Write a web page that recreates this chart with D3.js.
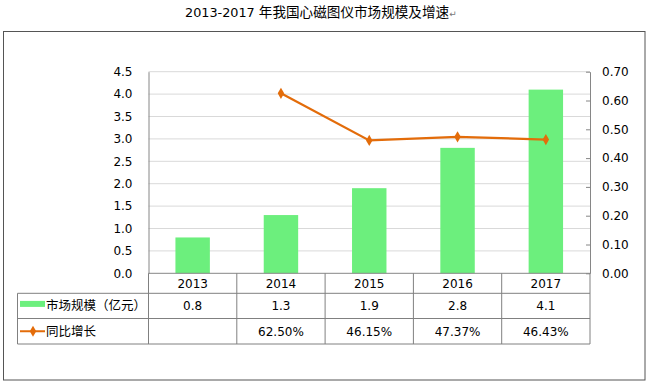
<!DOCTYPE html>
<html><head><meta charset="utf-8">
<script src="https://cdn.jsdelivr.net/npm/d3@7/dist/d3.min.js"></script>
<style>body{margin:0;background:#fff}svg{display:block}</style>
</head><body><svg id="c" width="647" height="383"></svg>
<script>
const titleYears = "2013-2017 ";
const titleText = "年我国心磁图仪市场规模及增速";
const titleMark = "↵";
const categories = ["2013","2014","2015","2016","2017"];
const marketSize = [0.8,1.3,1.9,2.8,4.1];
const growth = [null,0.625,0.4615,0.4737,0.4643];
const growthLabels = ["","62.50%","46.15%","47.37%","46.43%"];
const leftTicks = [0,0.5,1,1.5,2,2.5,3,3.5,4,4.5];
const rightTicks = [0,0.1,0.2,0.3,0.4,0.5,0.6,0.7];
const seriesNames = ["市场规模（亿元）","同比增长"];

const svg = d3.select("#c");
const num = "DejaVu Sans, Verdana, sans-serif";
const cjk = "'Noto Sans CJK SC', sans-serif";
const green = "#6CEF7D", orange = "#E36C0A", lineGray = "#808080";

const L = 148.5, R = 590, T = 71.7, B = 273.3;
const tableLeft = 17.5, row1 = 293.3, row2 = 318.5, row3 = 344;

const tEl = svg.append("text").attr("x",185).attr("y",17).attr("fill","#000");
tEl.append("tspan").attr("font-family",num).attr("font-size",12.8).text(titleYears);
tEl.append("tspan").attr("font-family",cjk).attr("font-size",13.6).text(titleText);
tEl.append("tspan").attr("font-family",num).attr("font-size",9).attr("fill","#777").text(titleMark);

svg.append("rect").attr("x",3.5).attr("y",31.5).attr("width",641.5).attr("height",348.5)
  .attr("fill","none").attr("stroke","#555").attr("stroke-width",1);

const x = d3.scaleBand().domain(categories).range([L,R]).paddingInner(0).paddingOuter(0);
const yL = d3.scaleLinear().domain([0,4.5]).range([B,T]);
const yR = d3.scaleLinear().domain([0,0.7]).range([B,T]);

// gridlines
svg.append("g").selectAll("line").data(leftTicks.slice(1)).join("line")
  .attr("x1",L).attr("x2",R).attr("y1",d=>yL(d)).attr("y2",d=>yL(d))
  .attr("stroke","#D9D9D9").attr("stroke-width",1);

// left axis
const gl = svg.append("g").attr("transform",`translate(${L},0)`)
  .call(d3.axisLeft(yL).tickValues(leftTicks).tickFormat(d3.format(".1f")).tickSize(0).tickPadding(16));
gl.select(".domain").attr("stroke","#868686");
gl.selectAll("text").attr("font-family",num).attr("font-size",12).attr("fill","#000");

// right axis
const gr = svg.append("g").attr("transform",`translate(${R},0)`)
  .call(d3.axisRight(yR).tickValues(rightTicks).tickFormat(d3.format(".2f")).tickSizeInner(-4).tickSizeOuter(0).tickPadding(12));
gr.select(".domain").attr("stroke","#868686");
gr.selectAll("line").attr("stroke","#868686");
gr.selectAll("text").attr("font-family",num).attr("font-size",12).attr("fill","#000");

// bars
const bw = x.bandwidth()*0.39;
svg.append("g").selectAll("rect").data(marketSize).join("rect")
  .attr("x",(d,i)=>x(categories[i])+x.bandwidth()/2-bw/2)
  .attr("width",bw).attr("y",d=>yL(d)).attr("height",d=>B-yL(d)).attr("fill",green);

// line
const pts = growth.map((v,i)=>({c:categories[i],v})).filter(d=>d.v!=null);
const line = d3.line().x(d=>x(d.c)+x.bandwidth()/2).y(d=>yR(d.v));
svg.append("path").datum(pts).attr("d",line).attr("fill","none").attr("stroke",orange).attr("stroke-width",2.25);
const diamond = d3.symbol().type(d3.symbolDiamond).size(36);
svg.append("g").selectAll("path").data(pts).join("path")
  .attr("transform",d=>`translate(${x(d.c)+x.bandwidth()/2},${yR(d.v)})`)
  .attr("d",diamond).attr("fill",orange);

// table
const tg = svg.append("g").attr("stroke",lineGray).attr("stroke-width",1).attr("fill","none");
tg.append("line").attr("x1",L).attr("x2",R).attr("y1",B).attr("y2",B).attr("stroke","#868686");
[row1,row2,row3].forEach(yy=>tg.append("line").attr("x1",tableLeft).attr("x2",R).attr("y1",yy).attr("y2",yy));
tg.append("line").attr("x1",tableLeft).attr("x2",tableLeft).attr("y1",row1).attr("y2",row3);
categories.forEach(c=>tg.append("line").attr("x1",x(c)).attr("x2",x(c)).attr("y1",B).attr("y2",row3));
tg.append("line").attr("x1",R).attr("x2",R).attr("y1",B).attr("y2",row3);

const tt = svg.append("g").attr("font-family",num).attr("font-size",12).attr("fill","#000").attr("text-anchor","middle");
categories.forEach((c,i)=>{
  const cx = x(c)+x.bandwidth()/2;
  tt.append("text").attr("x",cx).attr("y",(B+row1)/2+4.5).text(c);
  tt.append("text").attr("x",cx).attr("y",(row1+row2)/2+4.5).text(d3.format(".1f")(marketSize[i]));
  tt.append("text").attr("x",cx).attr("y",(row2+row3)/2+4.5).text(growthLabels[i]);
});

// legend keys
svg.append("rect").attr("x",20).attr("y",(row1+row2)/2-5).attr("width",25).attr("height",6).attr("fill",green);
const ly = (row2+row3)/2;
svg.append("line").attr("x1",20).attr("x2",45).attr("y1",ly).attr("y2",ly).attr("stroke",orange).attr("stroke-width",2);
svg.append("path").attr("transform",`translate(33,${ly})`).attr("d",diamond).attr("fill",orange);
svg.append("text").attr("x",46).attr("y",(row1+row2)/2+4.5).attr("font-family",cjk).attr("font-size",12.5).text(seriesNames[0]);
svg.append("text").attr("x",46).attr("y",ly+4.5).attr("font-family",cjk).attr("font-size",12.5).text(seriesNames[1]);
</script></body></html>
